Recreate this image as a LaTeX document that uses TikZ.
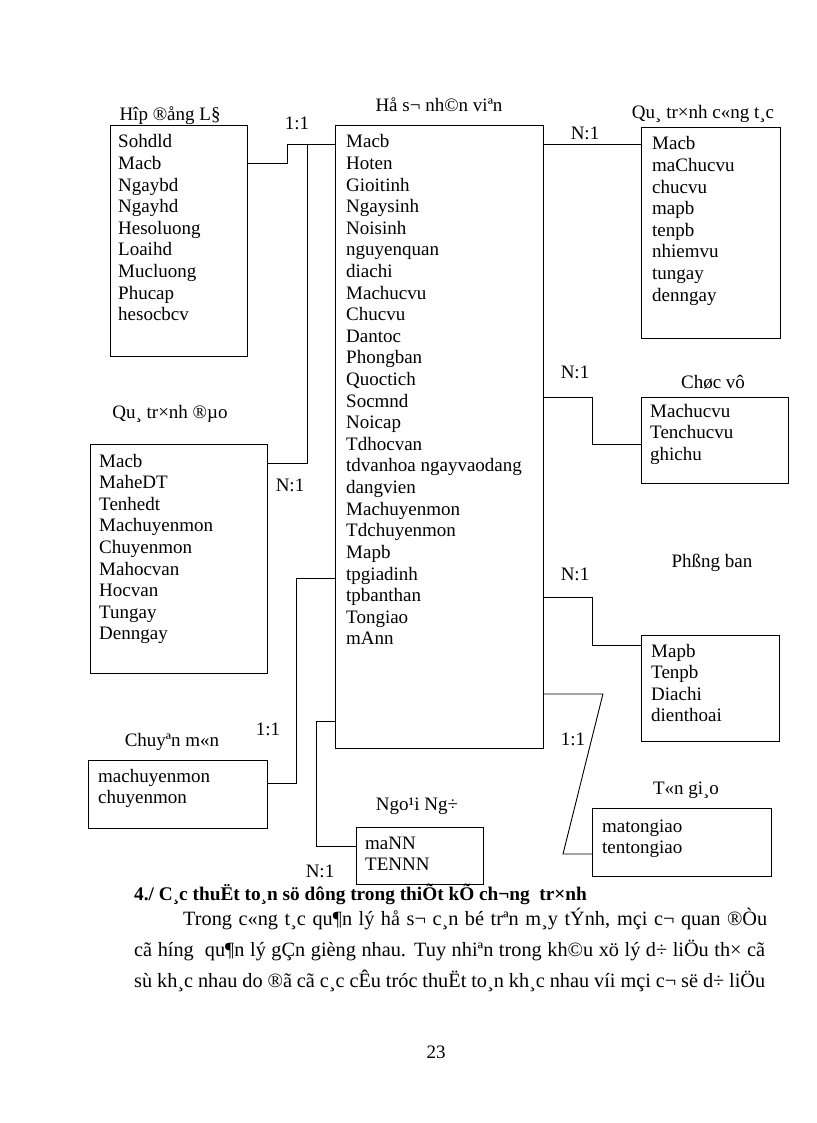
\documentclass[tikz,border=0pt]{standalone}
\usepackage{fontspec}
\setmainfont{Liberation Serif}
\usetikzlibrary{calc}
\newcommand\fsz{\fontsize{19}{21.6}\selectfont}
\newcommand\psz{\fontsize{20.3}{24}\selectfont}
\newcommand\flist[1]{\begin{tabular}[t]{@{}l@{}}#1\end{tabular}}
\tikzset{
  ent/.style={draw, line width=0.9pt, inner sep=0pt, anchor=north west},
  fld/.style={anchor=base west, inner sep=0pt, font=\fsz},
  ttl/.style={anchor=base, inner sep=0pt, font=\fsz},
  card/.style={anchor=base, inner sep=0pt, font=\fsz},
  lnk/.style={line width=0.9pt},
  para/.style={anchor=base west, inner sep=0pt, font=\psz},
}
\begin{document}
\begin{tikzpicture}[x=1pt,y=-1pt]
\useasboundingbox[fill=white] (0,0) rectangle (816,1123);

% entity boxes
\node[ent, minimum width=137pt, minimum height=231pt] (hd) at (110,125) {};
\node[ent, minimum width=208pt, minimum height=623pt] (big) at (335,125) {};
\node[ent, minimum width=139pt, minimum height=211pt] (qtct) at (641,127) {};
\node[ent, minimum width=177pt, minimum height=229pt] (dao) at (90,444) {};
\node[ent, minimum width=147pt, minimum height=86pt] (cv) at (641,397) {};
\node[ent, minimum width=138pt, minimum height=106pt] (pb) at (641,635) {};
\node[ent, minimum width=179pt, minimum height=68pt] (cm) at (88,760) {};
\node[ent, minimum width=127pt, minimum height=57pt] (nn) at (356,827) {};
\node[ent, minimum width=179pt, minimum height=68pt] (tg) at (592,808) {};

% titles
\node[ttl] (thd) at (170,121) {Hîp ®ång L§};
\node[ttl] (tbig) at (439,112) {Hå s¬ nh©n viªn};
\node[ttl] (tqtct) at (703,119) {Qu¸ tr×nh c«ng t¸c};
\node[ttl] (tdao) at (170,418) {Qu¸ tr×nh ®µo};
\node[ttl] (tcv) at (713,388) {Chøc vô};
\node[ttl] (tpb) at (712,567) {Phßng ban};
\node[ttl] (tcm) at (172,746) {Chuyªn m«n};
\node[ttl] (tnn) at (417,810) {Ngo¹i Ng÷};
\node[ttl] (ttg) at (686,794) {T«n gi¸o};

% field lists
\node[fld] (fhd) at (118,148) {\flist{Sohdld\\Macb\\Ngaybd\\Ngayhd\\Hesoluong\\Loaihd\\Mucluong\\Phucap\\hesocbcv}};
\node[fld] (fbig) at (346,148) {\flist{Macb\\Hoten\\Gioitinh\\Ngaysinh\\Noisinh\\nguyenquan\\diachi\\Machucvu\\Chucvu\\Dantoc\\Phongban\\Quoctich\\Socmnd\\Noicap\\Tdhocvan\\tdvanhoa ngayvaodang\\dangvien\\Machuyenmon\\Tdchuyenmon\\Mapb\\tpgiadinh\\tpbanthan\\Tongiao\\mAnn}};
\node[fld] (fqtct) at (652,150) {\flist{Macb\\maChucvu\\chucvu\\mapb\\tenpb\\nhiemvu\\tungay\\denngay}};
\node[fld] (fdao) at (99,467) {\flist{Macb\\MaheDT\\Tenhedt\\Machuyenmon\\Chuyenmon\\Mahocvan\\Hocvan\\Tungay\\Denngay}};
\node[fld] (fcv) at (650,417) {\flist{Machucvu\\Tenchucvu\\ghichu}};
\node[fld] (fpb) at (651,657) {\flist{Mapb\\Tenpb\\Diachi\\dienthoai}};
\node[fld] (fcm) at (98,782) {\flist{machuyenmon\\chuyenmon}};
\node[fld] (fnn) at (365,849) {\flist{maNN\\TENNN}};
\node[fld] (ftg) at (602,832) {\flist{matongiao\\tentongiao}};

% connectors
\draw[lnk] ($(hd.north east)+(0,38)$) -- ++(40,0) |- ($(big.north west)+(0,19)$);
\draw[lnk] ($(dao.north east)+(0,19)$) -| ($(big.north west)+(-28,19)$);
\draw[lnk] ($(big.north east)+(0,19)$) -- ($(qtct.north west)+(0,17)$);
\draw[lnk] ($(big.north east)+(0,272)$) -- ++(49,0) |- ($(cv.north west)+(0,47)$);
\draw[lnk] ($(big.north east)+(0,472)$) -- ++(49,0) |- ($(pb.north west)+(0,10)$);
\draw[lnk] ($(big.north east)+(0,569)$) -- ++(59,0) -- ($(tg.north west)+(-29,46)$) -- ($(tg.north west)+(0,46)$);
\draw[lnk] ($(cm.north east)+(0,23)$) -- ++(29,0) |- ($(big.north west)+(0,453)$);
\draw[lnk] ($(big.north west)+(0,596)$) -- ++(-19,0) |- ($(nn.north west)+(0,19)$);

% cardinalities
\node[card] (k1) at (297,130) {1:1};
\node[card] (k2) at (290,491) {N:1};
\node[card] (k3) at (585,140) {N:1};
\node[card] (k4) at (575,378) {N:1};
\node[card] (k5) at (575,580) {N:1};
\node[card] (k6) at (573,745) {1:1};
\node[card] (k7) at (268,735) {1:1};
\node[card] (k8) at (320,877) {N:1};

% text below
\node[para, font=\fontsize{19.3}{22}\selectfont\bfseries] (h4) at (134,900) {4./ C¸c thuËt to¸n sö dông trong thiÕt kÕ ch¬ng\ \ tr×nh};
\node[para] (p1) at (183,925) {\makebox[584pt][s]{Trong c«ng t¸c qu¶n lý hå s¬ c¸n bé trªn m¸y tÝnh, mçi c¬ quan ®Òu}};
\node[para] (p2) at (134,956) {\makebox[631pt][s]{cã híng\ \ qu¶n lý gÇn gièng nhau. Tuy nhiªn trong kh©u xö lý d÷ liÖu th× cã}};
\node[para] (p3) at (134,987) {\makebox[631pt][s]{sù kh¸c nhau do ®ã cã c¸c cÊu tróc thuËt to¸n kh¸c nhau víi mçi c¬ së d÷ liÖu}};
\node[ttl] (pg) at (436,1058) {23};
\end{tikzpicture}
\end{document}
